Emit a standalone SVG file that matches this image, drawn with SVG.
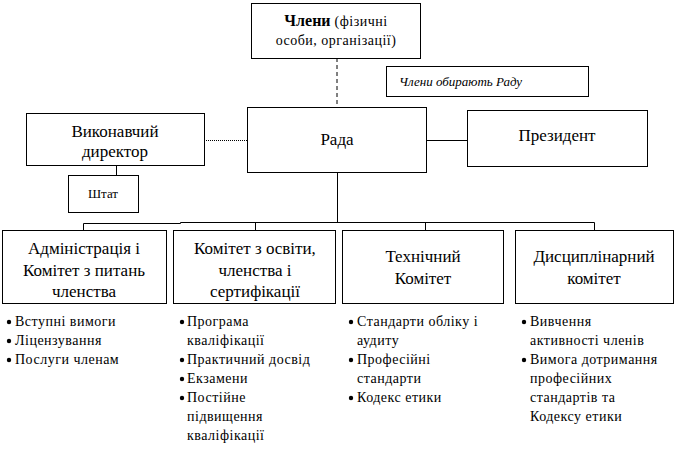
<svg xmlns="http://www.w3.org/2000/svg" width="683" height="452" viewBox="0 0 683 452">
<rect width="683" height="452" fill="#fff"/>
<g id="connectors" fill="none" stroke="#000" stroke-width="1">
<line x1="337" y1="58" x2="337" y2="107" stroke-dasharray="4,3"/>
<line x1="204" y1="140.5" x2="247" y2="140.5" stroke-dasharray="1,1"/>
<line x1="427" y1="140.5" x2="467" y2="140.5"/>
<line x1="116.5" y1="165" x2="116.5" y2="175"/>
<line x1="337.5" y1="172" x2="337.5" y2="222"/>
<polyline points="83.5,230 83.5,223.5 180.5,223.5 180.5,222.5 594.5,222.5 594.5,230"/>
<line x1="255.5" y1="222" x2="255.5" y2="230"/>
<line x1="425.5" y1="222" x2="425.5" y2="230"/>
</g>
<g id="members">
<rect x="251.5" y="3.5" width="169" height="55" fill="#fff" stroke="#000"/>
<text font-family="Liberation Serif" x="336" y="26" text-anchor="middle"><tspan font-size="16" font-weight="bold">Члени</tspan><tspan font-size="14" letter-spacing="0.5"> (фізичні</tspan></text>
<text font-family="Liberation Serif" x="336" y="45" text-anchor="middle" font-size="14" letter-spacing="0.5">особи, організації)</text>
</g>
<g id="note">
<rect x="386.5" y="66.5" width="202" height="30" fill="#fff" stroke="#000"/>
<text font-family="Liberation Serif" x="399" y="86" font-size="13" font-style="italic">Члени обирають Раду</text>
</g>
<g id="council">
<rect x="247.5" y="107.5" width="179" height="65" fill="#fff" stroke="#000"/>
<text font-family="Liberation Serif" font-size="17" text-anchor="middle" x="337" y="145">Рада</text>
</g>
<g id="president">
<rect x="467.5" y="110.5" width="180" height="56" fill="#fff" stroke="#000"/>
<text font-family="Liberation Serif" font-size="17" text-anchor="middle" x="557" y="141">Президент</text>
</g>
<g id="director">
<rect x="26.5" y="113.5" width="178" height="52" fill="#fff" stroke="#000"/>
<text font-family="Liberation Serif" font-size="17" text-anchor="middle" x="115" y="137">Виконавчий</text>
<text font-family="Liberation Serif" font-size="17" text-anchor="middle" x="115" y="157">директор</text>
</g>
<g id="staff">
<rect x="68.5" y="175.5" width="70" height="37" fill="#fff" stroke="#000"/>
<text font-family="Liberation Serif" x="103" y="198" font-size="13" text-anchor="middle">Штат</text>
</g>
<g id="admin">
<rect x="2.5" y="230.5" width="164" height="73" fill="#fff" stroke="#000"/>
<text font-family="Liberation Serif" font-size="17" text-anchor="middle" x="84" y="254">Адміністрація і</text>
<text font-family="Liberation Serif" font-size="17" text-anchor="middle" x="84" y="276">Комітет з питань</text>
<text font-family="Liberation Serif" font-size="17" text-anchor="middle" x="84" y="297">членства</text>
</g>
<g id="education">
<rect x="173.5" y="230.5" width="162" height="73" fill="#fff" stroke="#000"/>
<text font-family="Liberation Serif" font-size="17" text-anchor="middle" x="255" y="254">Комітет з освіти,</text>
<text font-family="Liberation Serif" font-size="17" text-anchor="middle" x="255" y="276">членства і</text>
<text font-family="Liberation Serif" font-size="17" text-anchor="middle" x="255" y="297">сертифікації</text>
</g>
<g id="technical">
<rect x="342.5" y="230.5" width="161" height="73" fill="#fff" stroke="#000"/>
<text font-family="Liberation Serif" font-size="17" text-anchor="middle" x="423" y="262">Технічний</text>
<text font-family="Liberation Serif" font-size="17" text-anchor="middle" x="423" y="284">Комітет</text>
</g>
<g id="disciplinary">
<rect x="515.5" y="230.5" width="158" height="73" fill="#fff" stroke="#000"/>
<text font-family="Liberation Serif" font-size="17" text-anchor="middle" x="594" y="262">Дисциплінарний</text>
<text font-family="Liberation Serif" font-size="17" text-anchor="middle" x="594" y="284">комітет</text>
</g>
<g id="list-admin">
<circle cx="9" cy="322" r="2.2"/><circle cx="9" cy="341" r="2.2"/><circle cx="9" cy="360" r="2.2"/>
<text font-family="Liberation Serif" font-size="14" letter-spacing="0.5" x="15" y="326">Вступні вимоги</text>
<text font-family="Liberation Serif" font-size="14" letter-spacing="0.5" x="15" y="345">Ліцензування</text>
<text font-family="Liberation Serif" font-size="14" letter-spacing="0.5" x="15" y="364">Послуги членам</text>
</g>
<g id="list-education">
<circle cx="182" cy="322" r="2.2"/><circle cx="182" cy="360" r="2.2"/><circle cx="182" cy="379" r="2.2"/><circle cx="182" cy="398" r="2.2"/>
<text font-family="Liberation Serif" font-size="14" letter-spacing="0.5" x="187" y="326">Програма</text>
<text font-family="Liberation Serif" font-size="14" letter-spacing="0.5" x="187" y="345">кваліфікації</text>
<text font-family="Liberation Serif" font-size="14" letter-spacing="0.5" x="187" y="364">Практичний досвід</text>
<text font-family="Liberation Serif" font-size="14" letter-spacing="0.5" x="187" y="383">Екзамени</text>
<text font-family="Liberation Serif" font-size="14" letter-spacing="0.5" x="187" y="402">Постійне</text>
<text font-family="Liberation Serif" font-size="14" letter-spacing="0.5" x="187" y="421">підвищення</text>
<text font-family="Liberation Serif" font-size="14" letter-spacing="0.5" x="187" y="440">кваліфікації</text>
</g>
<g id="list-technical">
<circle cx="351" cy="322" r="2.2"/><circle cx="351" cy="360" r="2.2"/><circle cx="351" cy="398" r="2.2"/>
<text font-family="Liberation Serif" font-size="14" letter-spacing="0.5" x="357" y="326">Стандарти обліку і</text>
<text font-family="Liberation Serif" font-size="14" letter-spacing="0.5" x="357" y="345">аудиту</text>
<text font-family="Liberation Serif" font-size="14" letter-spacing="0.5" x="357" y="364">Професійні</text>
<text font-family="Liberation Serif" font-size="14" letter-spacing="0.5" x="357" y="383">стандарти</text>
<text font-family="Liberation Serif" font-size="14" letter-spacing="0.5" x="357" y="402">Кодекс етики</text>
</g>
<g id="list-disciplinary">
<circle cx="524" cy="322" r="2.2"/><circle cx="524" cy="360" r="2.2"/>
<text font-family="Liberation Serif" font-size="14" letter-spacing="0.5" x="530" y="326">Вивчення</text>
<text font-family="Liberation Serif" font-size="14" letter-spacing="0.5" x="530" y="345">активності членів</text>
<text font-family="Liberation Serif" font-size="14" letter-spacing="0.5" x="530" y="364">Вимога дотримання</text>
<text font-family="Liberation Serif" font-size="14" letter-spacing="0.5" x="530" y="383">професійних</text>
<text font-family="Liberation Serif" font-size="14" letter-spacing="0.5" x="530" y="402">стандартів та</text>
<text font-family="Liberation Serif" font-size="14" letter-spacing="0.5" x="530" y="421">Кодексу етики</text>
</g>
</svg>
